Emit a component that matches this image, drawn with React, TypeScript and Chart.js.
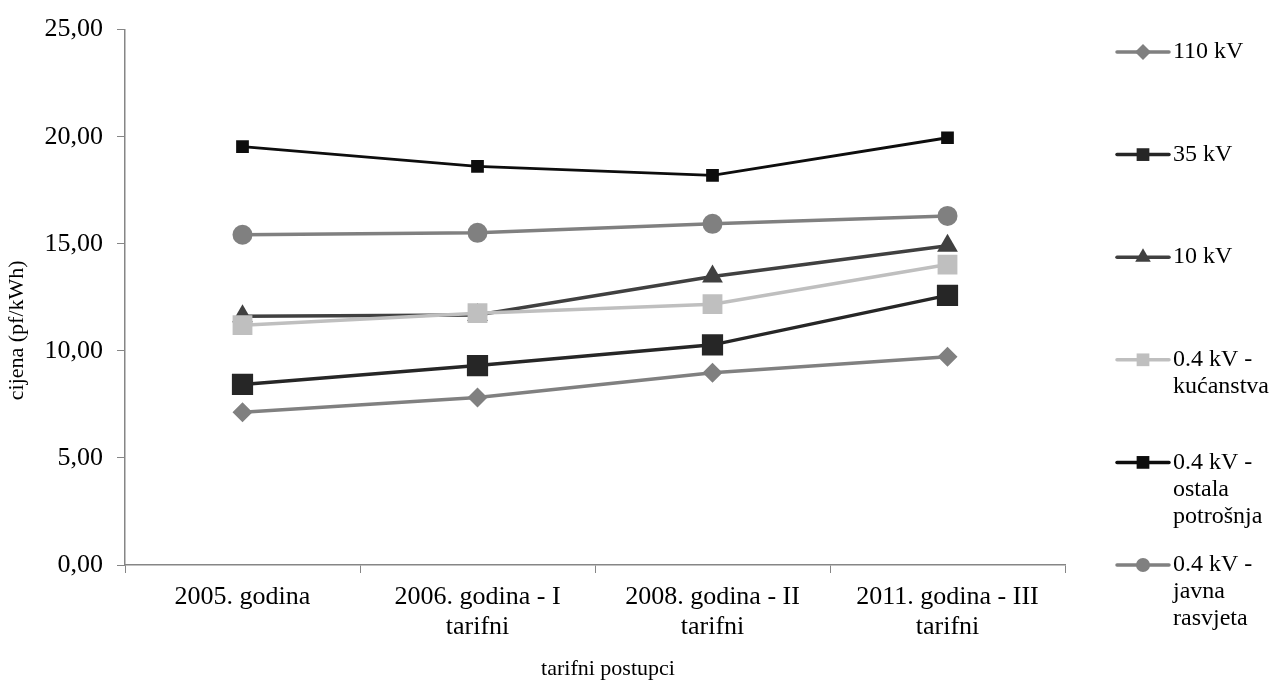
import React, { useEffect, useRef } from 'react';
import { Chart, registerables } from 'chart.js';

Chart.register(...registerables);

const FONT = "'Liberation Serif', 'Times New Roman', serif";

// ---- data ----
const categories: string[][] = [
  ['2005. godina'],
  ['2006. godina - I', 'tarifni'],
  ['2008. godina - II', 'tarifni'],
  ['2011. godina - III', 'tarifni'],
];
const kv110 = [7.13, 7.82, 8.98, 9.72];
const kv35 = [8.43, 9.31, 10.28, 12.59];
const kv10 = [11.62, 11.67, 13.47, 14.91];
const kucanstva = [11.2, 11.76, 12.18, 14.03];
const ostala = [19.54, 18.61, 18.19, 19.95];
const javna = [15.42, 15.51, 15.93, 16.3];

const seriesLabels: string[][] = [
  ['110 kV'],
  ['35 kV'],
  ['10 kV'],
  ['0.4 kV -', 'kućanstva'],
  ['0.4 kV -', 'ostala', 'potrošnja'],
  ['0.4 kV -', 'javna', 'rasvjeta'],
];
const yTicks = [0, 5, 10, 15, 20, 25];
const yTitle = 'cijena (pf/kWh)';
const xTitle = 'tarifni postupci';

type Style = { color: string; shape: string; r: number; lr: number; lw: number };
const styles: Style[] = [
  { color: '#808080', shape: 'rectRot', r: 10, lr: 8, lw: 3.5 },
  { color: '#262626', shape: 'rect', r: 15, lr: 9, lw: 3.5 },
  { color: '#404040', shape: 'triangle', r: 12, lr: 9, lw: 3.5 },
  { color: '#bfbfbf', shape: 'rect', r: 14, lr: 9, lw: 3.5 },
  { color: '#0d0d0d', shape: 'rect', r: 9, lr: 9, lw: 2.8 },
  { color: '#808080', shape: 'circle', r: 10, lr: 7, lw: 3.5 },
];

function drawMarker(ctx: CanvasRenderingContext2D, shape: string, x: number, y: number, r: number) {
  ctx.beginPath();
  if (shape === 'rect') {
    const s = r * Math.SQRT1_2;
    ctx.rect(x - s, y - s, 2 * s, 2 * s);
  } else if (shape === 'rectRot') {
    ctx.moveTo(x - r, y);
    ctx.lineTo(x, y - r);
    ctx.lineTo(x + r, y);
    ctx.lineTo(x, y + r);
    ctx.closePath();
  } else if (shape === 'triangle') {
    const a = (2 * Math.PI) / 3;
    ctx.moveTo(x, y - r);
    ctx.lineTo(x + Math.sin(a) * r, y - Math.cos(a) * r);
    ctx.lineTo(x + Math.sin(2 * a) * r, y - Math.cos(2 * a) * r);
    ctx.closePath();
  } else {
    ctx.arc(x, y, r, 0, Math.PI * 2);
  }
  ctx.fill();
}

export default function App() {
  const ref = useRef<HTMLCanvasElement>(null);

  useEffect(() => {
    if (!ref.current) return;
    const values = [kv110, kv35, kv10, kucanstva, ostala, javna];

    const sideLegend = {
      id: 'sideLegend',
      afterDraw(chart: any) {
        const ctx: CanvasRenderingContext2D = chart.ctx;
        ctx.save();
        const y0 = 52;
        const step = 102.6;
        const lineH = 27;
        chart.data.datasets.forEach((ds: any, i: number) => {
          const st = styles[i];
          const y = y0 + i * step;
          ctx.strokeStyle = st.color;
          ctx.fillStyle = st.color;
          ctx.lineWidth = 3.5;
          ctx.lineCap = 'round';
          ctx.beginPath();
          ctx.moveTo(1117, y);
          ctx.lineTo(1169, y);
          ctx.stroke();
          drawMarker(ctx, st.shape, 1143, y, st.lr);
          ctx.fillStyle = '#000';
          ctx.font = `24px ${FONT}`;
          ctx.textAlign = 'left';
          ctx.textBaseline = 'middle';
          (ds.legendLines as string[]).forEach((t, k) => ctx.fillText(t, 1173, y + k * lineH));
        });
        ctx.restore();
      },
    };

    const axisTitles = {
      id: 'axisTitles',
      afterDraw(chart: any) {
        const ctx: CanvasRenderingContext2D = chart.ctx;
        const area = chart.chartArea;
        ctx.save();
        ctx.fillStyle = '#000';
        ctx.font = `22px ${FONT}`;
        ctx.textAlign = 'center';
        ctx.textBaseline = 'middle';
        ctx.fillText(xTitle, (area.left + area.right) / 2 + 13, 669);
        ctx.translate(17, (area.top + area.bottom) / 2 + 33);
        ctx.rotate(-Math.PI / 2);
        ctx.fillText(yTitle, 0, 0);
        ctx.restore();
      },
    };

    const chart = new Chart(ref.current, {
      type: 'line',
      data: {
        labels: categories,
        datasets: values.map((v, i) => ({
          label: seriesLabels[i].join(' '),
          legendLines: seriesLabels[i],
          data: v,
          borderColor: styles[i].color,
          backgroundColor: styles[i].color,
          borderWidth: styles[i].lw,
          pointStyle: styles[i].shape,
          pointRadius: styles[i].r,
          pointHoverRadius: styles[i].r,
          pointBorderWidth: 0,
          pointBackgroundColor: styles[i].color,
          pointBorderColor: styles[i].color,
          tension: 0,
          fill: false,
          order: values.length - i,
        })) as any,
      },
      options: {
        responsive: false,
        animation: false,
        layout: { padding: { top: 25, right: 210, bottom: 0, left: 0 } },
        plugins: {
          legend: { display: false },
          tooltip: { enabled: false },
        },
        scales: {
          x: {
            type: 'category',
            offset: true,
            grid: {
              offset: true,
              drawOnChartArea: false,
              drawTicks: true,
              tickLength: 8,
              color: '#868686',
            },
            border: { color: '#868686', width: 1.5 },
            ticks: {
              font: { family: FONT, size: 26, lineHeight: 1.15 },
              color: '#000',
              padding: 9,
              maxRotation: 0,
              autoSkip: false,
            },
            afterFit: (s: any) => {
              s.height = 115;
            },
          },
          y: {
            min: 0,
            max: 25,
            afterBuildTicks: (s: any) => {
              s.ticks = yTicks.map((v) => ({ value: v }));
            },
            grid: {
              drawOnChartArea: false,
              drawTicks: true,
              tickLength: 8,
              color: '#868686',
            },
            border: { color: '#868686', width: 1.5 },
            ticks: {
              font: { family: FONT, size: 26 },
              color: '#000',
              padding: 14,
              callback: (v: any) => Number(v).toFixed(2).replace('.', ','),
            },
            afterFit: (s: any) => {
              s.width = 125;
            },
          },
        },
      },
      plugins: [sideLegend, axisTitles],
    } as any);

    return () => chart.destroy();
  }, []);

  return (
    <div style={{ position: 'fixed', left: 0, top: 0, width: 1275, height: 680, background: '#fff' }}>
      <canvas ref={ref} width={1275} height={680} />
    </div>
  );
}
